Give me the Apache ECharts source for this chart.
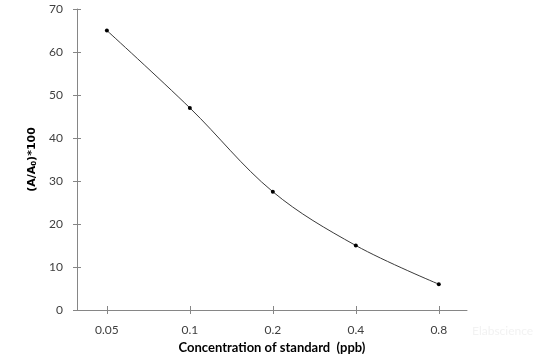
<!DOCTYPE html>
<html>
<head>
<meta charset="utf-8">
<script src="https://cdn.jsdelivr.net/npm/echarts@6/dist/echarts.min.js"></script>
<style>
  html, body { margin: 0; padding: 0; background: #ffffff; }
  #chart { width: 546px; height: 354px; }
</style>
</head>
<body>
<div id="chart"></div>
<script>
// concentration of standard (ppb), shown as evenly spaced categories
const categories = ["0.05", "0.1", "0.2", "0.4", "0.8"];
// (A/A0)*100
const values = [65, 47, 27.5, 15, 6];
const yTicks = [0, 10, 20, 30, 40, 50, 60, 70];

const axisGray = "#868686";
const textGray = "#404040";
const font = "Lato";

// category positions on a value axis, so the points sit off the axis ends
const positions = categories.map((c, i) => i);
const points = values.map((v, i) => [positions[i], v]);

const xBase = {
    type: "value",
    min: -0.36,
    max: 4.34,
    splitLine: { show: false },
};

const chart = echarts.init(document.getElementById("chart"), null, { renderer: "canvas" });

chart.setOption({
    animation: false,
    backgroundColor: "#ffffff",
    grid: { left: 77, right: 79, top: 9, bottom: 44, containLabel: false, outerBoundsMode: "none" },
    xAxis: [
        Object.assign({}, xBase, {
            name: "Concentration of standard  (ppb)",
            nameLocation: "middle",
            nameGap: 30,
            nameTextStyle: { color: "#000000", fontFamily: font, fontSize: 13, fontWeight: "bold" },
            axisLine: { show: true, onZero: false, lineStyle: { color: axisGray, width: 1 } },
            axisTick: { show: true, length: 4, customValues: positions, lineStyle: { color: axisGray } },
            axisLabel: {
                margin: 14,
                color: textGray,
                fontFamily: font,
                fontSize: 12,
                customValues: positions,
                formatter: (v) => categories[Math.round(v)] ?? "",
            },
        }),
        // second copy only for the inner half of the crossing ticks
        Object.assign({}, xBase, {
            position: "bottom",
            axisLine: { show: false, onZero: false },
            axisTick: { show: true, inside: true, length: 4, customValues: positions, lineStyle: { color: axisGray } },
            axisLabel: { show: false },
        }),
    ],
    yAxis: [
        {
            type: "value",
            min: 0,
            max: 70,
            interval: 10,
            name: "{b|(A/A}{s|0}{b|)*100}",
            nameLocation: "middle",
            nameRotate: 90,
            nameGap: 34,
            nameTextStyle: {
                rich: {
                    b: { fontFamily: "DejaVu Sans", fontSize: 11, fontWeight: "bold", color: "#000000" },
                    s: { fontFamily: "DejaVu Sans", fontSize: 7, fontWeight: "bold", color: "#000000", verticalAlign: "bottom", padding: [6, 0, 0, 0] },
                },
            },
            splitLine: { show: false },
            axisLine: { show: true, onZero: false, lineStyle: { color: axisGray, width: 1 } },
            axisTick: { show: true, length: 4, lineStyle: { color: axisGray } },
            axisLabel: {
                margin: 14,
                color: textGray,
                fontFamily: font,
                fontSize: 12,
                formatter: (v) => (yTicks.includes(v) ? String(v) : ""),
            },
        },
        {
            type: "value",
            min: 0,
            max: 70,
            interval: 10,
            position: "left",
            splitLine: { show: false },
            axisLine: { show: false, onZero: false },
            axisTick: { show: true, inside: true, length: 4, lineStyle: { color: axisGray } },
            axisLabel: { show: false },
        },
    ],
    graphic: [
        {
            type: "text",
            left: 472,
            top: 325,
            style: { text: "Elabscience", fill: "#f2f2f2", font: "12px " + font },
        },
    ],
    series: [
        {
            type: "line",
            data: points,
            smooth: 0.35,
            symbol: "circle",
            symbolSize: 4,
            lineStyle: { color: "#3a3a3a", width: 1 },
            itemStyle: { color: "#000000" },
        },
    ],
});
</script>
</body>
</html>
